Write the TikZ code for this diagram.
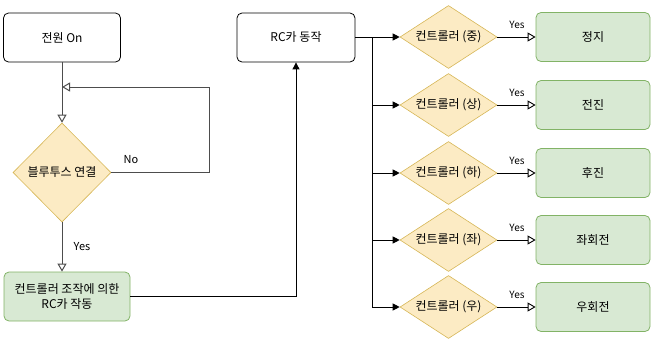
\documentclass[tikz,border=0pt]{standalone}
\usepackage{fontspec}
\setmainfont{Noto Sans CJK KR}
\usetikzlibrary{shapes.geometric,arrows.meta}
\definecolor{dfill}{HTML}{FCEBC4}
\definecolor{dline}{HTML}{D6B656}
\definecolor{gfill}{HTML}{D8E9D3}
\definecolor{gline}{HTML}{82B366}
\definecolor{lgray}{HTML}{4D4D4D}
\tikzset{
  txt/.style={font=\fontsize{12}{15}\selectfont, align=center},
  plainbox/.style={txt, draw=black, fill=white, rounded corners=5pt, line width=0.8pt, minimum width=117pt, minimum height=49pt, inner sep=0pt},
  greenbox/.style={txt, draw=gline, fill=gfill, rounded corners=5pt, line width=0.8pt, minimum height=49pt, inner sep=0pt},
  decision/.style={txt, diamond, draw=dline, fill=dfill, line width=0.6pt, inner sep=0pt},
  openarr/.style={-{Triangle[open, length=8pt, width=9pt, fill=white]}},
  fillarr/.style={-{Triangle[length=7pt, width=7pt]}},
  lab/.style={font=\fontsize{10}{11}\selectfont, inner sep=0pt},
  leftline/.style={draw=lgray, line width=1pt},
  rightline/.style={draw=black, line width=0.9pt},
}
\begin{document}
\begin{tikzpicture}[x=1pt, y=-1pt]
\useasboundingbox (0,0) rectangle (651,338);

% left column
\node[plainbox] (on) at (62,37.5) {전원 On};
\node[decision, aspect=1, minimum width=98pt, minimum height=99pt] (bt) at (62,172.5) {블루투스 연결};
\node[greenbox, minimum width=126pt] (ctrl) at (67,296.5) {컨트롤러 조작에 의한\\RC카 작동};
\node[plainbox, minimum width=118pt] (rc) at (296,37.5) {RC카 동작};

\coordinate (join) at (62,87);
\coordinate (loopA) at (209,172.5);
\coordinate (loopB) at (209,87);
\coordinate (up) at (296,296);
\coordinate (trunkTop) at (372,37);

\draw[leftline] (on.south) -- (join);
\draw[leftline, openarr] (join) -- (bt.north);
\draw[leftline, openarr] (bt.east) -- (loopA) -- (loopB) -- (join);
\node[lab, font=\fontsize{11}{12}\selectfont] (nolab) at (131,160) {No};
\draw[leftline, openarr] (bt.south) -- (bt.south |- ctrl.north);
\node[lab, font=\fontsize{11}{12}\selectfont] (yeslab) at (82,247) {Yes};
\draw[rightline, fillarr] (ctrl.east |- up) -- (up) -- (rc.south);

% right column
\foreach \i/\y/\d/\r in {1/37/중/정지, 2/105/상/전진, 3/173/하/후진, 4/240/좌/좌회전, 5/307/우/우회전} {
  \node[decision, aspect=1.54, minimum width=97pt, minimum height=63pt] (d\i) at (448.5,\y) {컨트롤러 (\d)};
  \node[greenbox, minimum width=114pt] (b\i) at (593,\y) {\r};
  \draw[rightline, openarr] (d\i.east) -- (b\i.west);
  \node[lab] (y\i) at (517,\y-12) {Yes};
}
\draw[rightline, fillarr] (rc.east |- d1) -- (d1.west);
\draw[rightline] (trunkTop) -- (trunkTop |- d5);
\foreach \i in {2,3,4,5} {
  \draw[rightline, fillarr] (trunkTop |- d\i) -- (d\i.west);
}
\end{tikzpicture}
\end{document}
